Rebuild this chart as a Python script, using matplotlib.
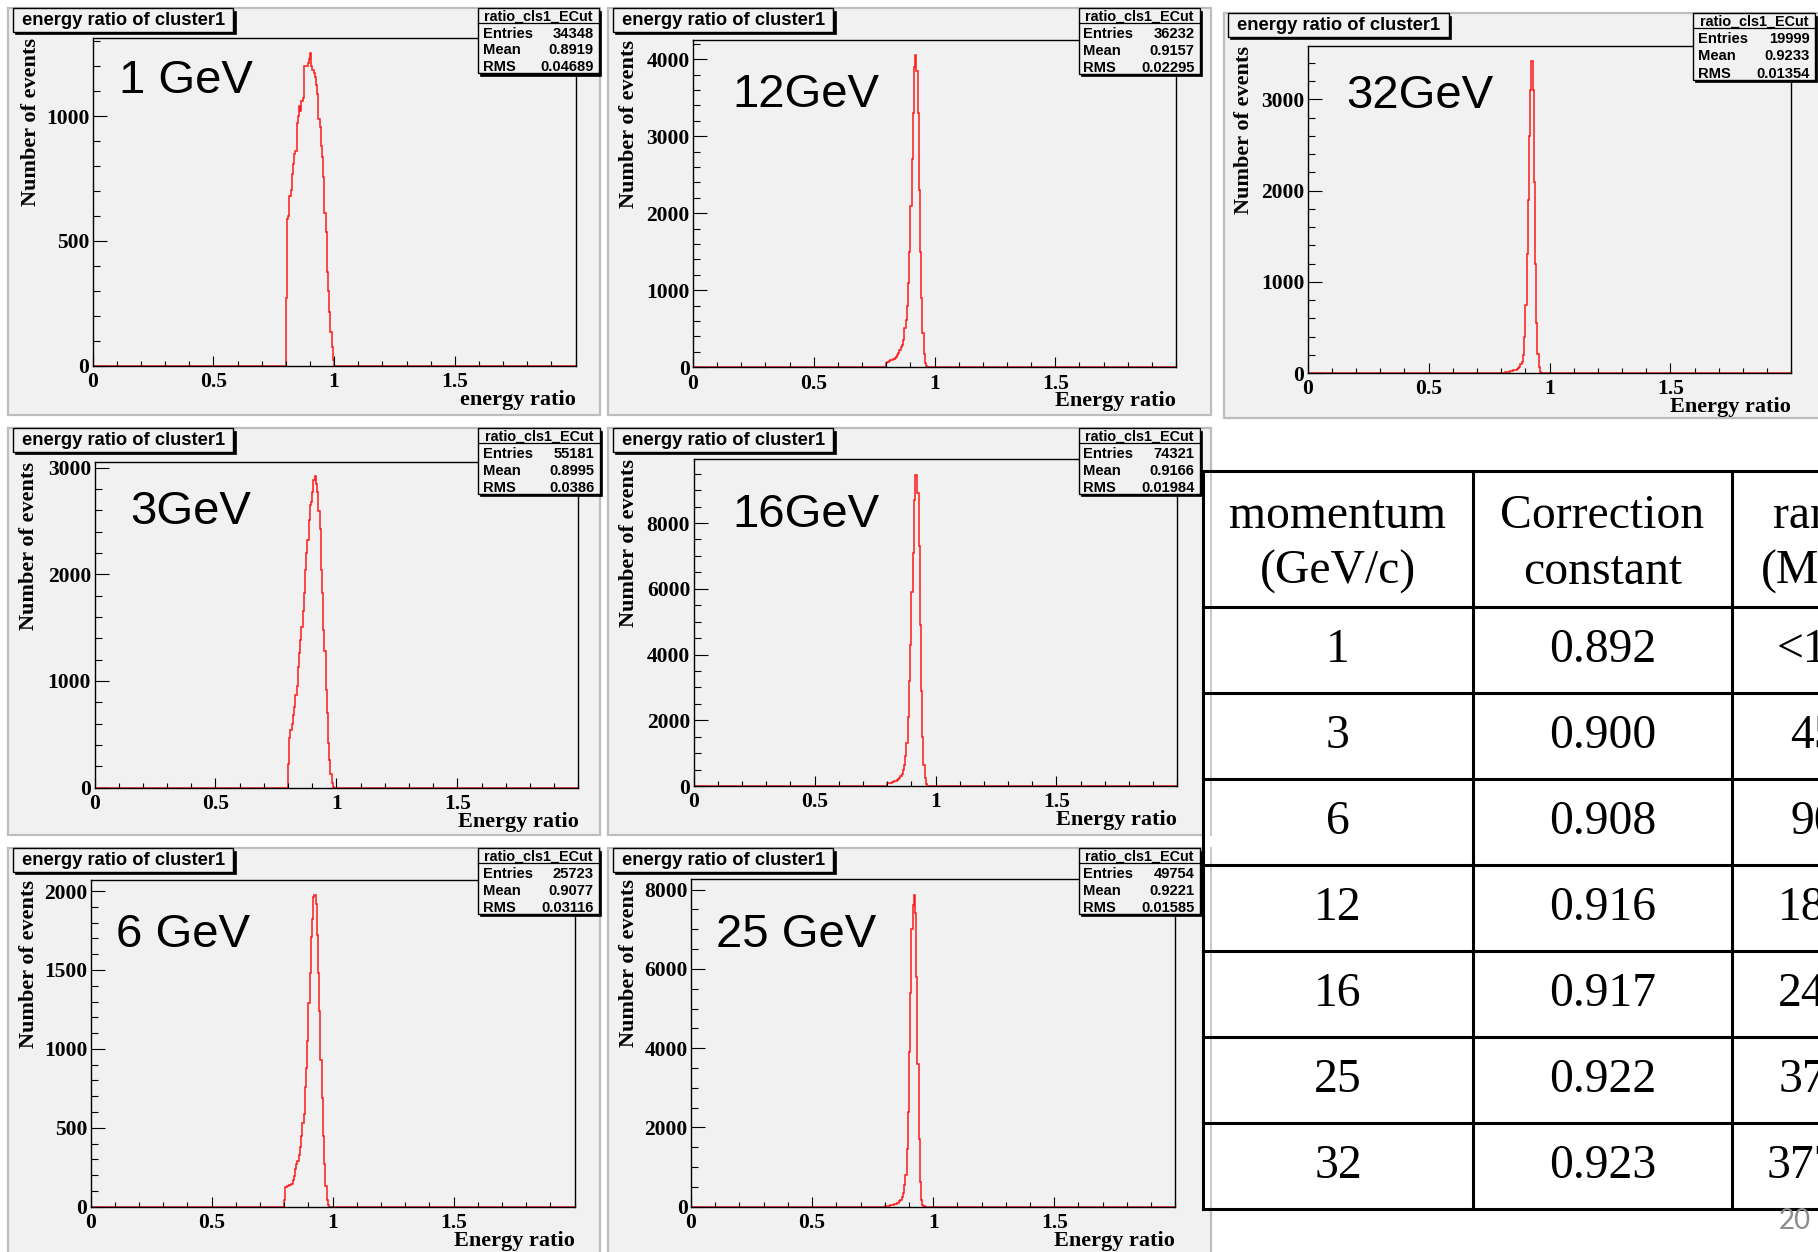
import numpy as np
import matplotlib
matplotlib.use("Agg")
import matplotlib.pyplot as plt
from matplotlib.patches import Rectangle
from matplotlib.ticker import MultipleLocator, FixedLocator

# ------------------------------------------------------------------ data
energy_labels = ["1 GeV", "12GeV", "32GeV", "3GeV", "16GeV", "6 GeV", "25 GeV"]
x_titles = ["energy ratio", "Energy ratio", "Energy ratio", "Energy ratio",
            "Energy ratio", "Energy ratio", "Energy ratio"]
hist_name = "ratio_cls1_ECut"
entries = ["34348", "36232", "19999", "55181", "74321", "25723", "49754"]
means = ["0.8919", "0.9157", "0.9233", "0.8995", "0.9166", "0.9077", "0.9221"]
rms = ["0.04689", "0.02295", "0.01354", "0.0386", "0.01984", "0.03116", "0.01585"]

# bin contents, bins of width 0.005 starting at energy ratio 0.800 (all other bins empty)
hist_start = 0.800
bin_width = 0.005
counts_1GeV = [270, 590, 600, 680, 705, 770, 810, 850, 860, 975, 1000, 1040, 1020, 1060,
               1075, 1200, 1200, 1200, 1215, 1230, 1253, 1200, 1185, 1175, 1158, 1124,
               1091, 990, 955, 880, 838, 758, 611, 537, 377, 300, 217, 136, 76, 22]
counts_12GeV = [55, 75, 80, 90, 95, 100, 110, 120, 135, 160, 185, 230, 260, 290, 360, 510,
                620, 800, 1100, 1500, 2100, 2700, 3300, 3900, 4050, 3850, 3300, 2300, 1500,
                900, 450, 170, 60, 15]
counts_32GeV = [0, 3, 5, 8, 10, 13, 16, 19, 22, 25, 28, 32, 36, 42, 55, 70, 95, 125, 200,
                400, 750, 1300, 1900, 2600, 3100, 3420, 3100, 2100, 1200, 550, 210, 70, 15, 3]
counts_3GeV = [220, 470, 540, 600, 680, 760, 870, 950, 1130, 1260, 1380, 1510, 1660, 1820,
               2040, 2200, 2320, 2510, 2650, 2680, 2770, 2880, 2920, 2850, 2770, 2590, 2420,
               2040, 1820, 1480, 1280, 920, 700, 420, 260, 130, 40, 10]
counts_16GeV = [80, 90, 100, 105, 115, 125, 140, 160, 185, 210, 240, 290, 360, 480, 650, 900,
                1300, 2100, 3200, 4300, 5900, 7100, 8700, 9450, 9470, 8900, 7300, 4900, 2900,
                1500, 650, 230, 60, 10]
counts_6GeV = [45, 125, 130, 130, 135, 140, 145, 170, 195, 240, 270, 290, 330, 380, 450, 530,
               590, 760, 880, 1050, 1290, 1480, 1710, 1820, 1960, 1975, 1920, 1720, 1480,
               1240, 930, 690, 450, 270, 130, 45, 10]
counts_25GeV = [15, 20, 25, 30, 35, 40, 45, 50, 60, 80, 90, 100, 140, 180, 240, 350, 540, 800,
                1450, 2400, 3900, 5400, 7000, 7600, 7860, 7400, 5800, 3600, 1700, 630, 170,
                45, 10]
all_counts = [counts_1GeV, counts_12GeV, counts_32GeV, counts_3GeV,
              counts_16GeV, counts_6GeV, counts_25GeV]

y_max = [1315, 4250, 3590, 3055, 9940, 2070, 8260]
y_major = [500, 1000, 1000, 1000, 2000, 500, 2000]
y_minor = [100, 200, 200, 200, 500, 100, 500]
x_major_ticks = [0, 0.5, 1, 1.5]
x_major_labels = ["0", "0.5", "1", "1.5"]

table_headers = [("momentum", "(GeV/c)"), ("Correction", "constant"), ("range", "(MeV)")]
table_momentum = ["1", "3", "6", "12", "16", "25", "32"]
table_correction = ["0.892", "0.900", "0.908", "0.916", "0.917", "0.922", "0.923"]
table_range = ["<100", "450", "900", "1800", "2400", "3700", "37700"]
page_number = "20"

# ------------------------------------------------------------------ layout (pixels)
W, H = 1818, 1252
CANVAS_C = "#f1f1f1"
SERIF = "Liberation Serif"
SANS = "Liberation Sans"

panels = [
    dict(canvas=(8, 8, 600, 415), frame=(92.6, 37.7, 575.6, 365.7),
         title=(12.8, 8.3, 233.4, 31.7), stats=(477.6, 8.3, 599, 73.3),
         big=(118.6, 93.3), ylab=31),
    dict(canvas=(608, 8, 1211, 415), frame=(693, 40, 1176, 367.3),
         title=(613, 8.3, 833.3, 31.7), stats=(1078.5, 8.3, 1199.8, 74),
         big=(732.5, 107.3), ylab=629),
    dict(canvas=(1224, 13, 1835, 418), frame=(1307.7, 45.7, 1791.3, 373),
         title=(1227.6, 13.3, 1448.8, 36.7), stats=(1693, 13.3, 1815, 80),
         big=(1346, 108.3), ylab=1244),
    dict(canvas=(8, 428, 600, 835), frame=(94.5, 461.7, 578.4, 787.7),
         title=(12.8, 428.3, 233.4, 451.7), stats=(477.6, 428.3, 600, 494),
         big=(130.3, 524), ylab=29),
    dict(canvas=(608, 428, 1211, 835), frame=(693.7, 459.3, 1177.3, 786),
         title=(613, 428.3, 833.3, 451.7), stats=(1078.5, 428.3, 1199.8, 494),
         big=(732.5, 527.3), ylab=629),
    dict(canvas=(8, 848, 600, 1262), frame=(90.6, 880, 574.5, 1206.7),
         title=(12.8, 848.3, 233.4, 871.7), stats=(477.6, 848.3, 599, 914),
         big=(115.9, 947.3), ylab=28.6),
    dict(canvas=(608, 848, 1211, 1262), frame=(691, 879.3, 1175.3, 1206.7),
         title=(613, 848.3, 833.3, 871.7), stats=(1078.5, 848.3, 1199.8, 914),
         big=(715.9, 947.3), ylab=629),
]

plt.rcParams["font.family"] = [SERIF, "DejaVu Serif"]
plt.rcParams["font.weight"] = "bold"

fig = plt.figure(figsize=(W / 100, H / 100), dpi=100, facecolor="white")


def overlay(z):
    a = fig.add_axes([0, 0, 1, 1], zorder=z)
    a.set_xlim(0, W)
    a.set_ylim(H, 0)
    a.axis("off")
    a.patch.set_alpha(0)
    return a


bg = overlay(0)
fg = overlay(3)


def frac(x0, y0, x1, y1):
    return [x0 / W, 1 - y1 / H, (x1 - x0) / W, (y1 - y0) / H]


def box(ax, x0, y0, x1, y1, face=CANVAS_C, shadow=2.2, lw=1.0):
    if shadow:
        ax.add_patch(Rectangle((x0 + shadow, y0 + shadow), x1 - x0, y1 - y0,
                               facecolor="black", edgecolor="black", lw=0.5))
    ax.add_patch(Rectangle((x0, y0), x1 - x0, y1 - y0, facecolor=face,
                           edgecolor="black", lw=lw))


edges = np.linspace(0.0, 2.0, 401)
i0 = int(round(hist_start / bin_width))

for k, p in enumerate(panels):
    cx0, cy0, cx1, cy1 = p["canvas"]
    bg.add_patch(Rectangle((cx0, cy0), cx1 - cx0, cy1 - cy0, facecolor=CANVAS_C,
                           edgecolor="#bdbdbd", lw=1.6))

    fx0, fy0, fx1, fy1 = p["frame"]
    ax = fig.add_axes(frac(fx0, fy0, fx1, fy1), zorder=2)
    ax.patch.set_alpha(0)
    full = np.zeros(400)
    c = np.asarray(all_counts[k], dtype=float)
    full[i0:i0 + len(c)] = c
    ax.stairs(full, edges, color="#ff1a1a", lw=1.1)
    ax.set_xlim(0, 2)
    ax.set_ylim(0, y_max[k])
    ax.xaxis.set_major_locator(FixedLocator(x_major_ticks))
    ax.set_xticklabels(x_major_labels)
    ax.xaxis.set_minor_locator(MultipleLocator(0.1))
    ax.yaxis.set_major_locator(MultipleLocator(y_major[k]))
    ax.yaxis.set_minor_locator(MultipleLocator(y_minor[k]))
    ax.tick_params(axis="x", which="major", direction="in", length=7.2, width=0.8,
                   pad=4.5, top=False, labelsize=15.5, colors="black")
    ax.tick_params(axis="x", which="minor", direction="in", length=3.6, width=0.8, top=False)
    ax.tick_params(axis="y", which="major", direction="in", length=10.4, width=0.8,
                   pad=2.5, right=False, labelsize=15.5)
    ax.tick_params(axis="y", which="minor", direction="in", length=5.2, width=0.8, right=False)
    for lbl in ax.get_xticklabels() + ax.get_yticklabels():
        lbl.set_fontfamily(SERIF)
        lbl.set_fontweight("bold")
    for s in ax.spines.values():
        s.set_linewidth(1.0)
        s.set_color("black")

    fg.text(p["ylab"], fy0, "Number of events", rotation=90, ha="center", va="top",
            fontsize=16, family=SERIF, weight="bold")
    fg.text(fx1, fy1 + 39, x_titles[k], ha="right", va="baseline",
            fontsize=16, family=SERIF, weight="bold")

    bx, by = p["big"]
    fg.text(bx, by, energy_labels[k], ha="left", va="baseline", fontsize=34,
            family=SANS, weight="normal")

    tx0, ty0, tx1, ty1 = p["title"]
    box(fg, tx0, ty0, tx1, ty1)
    fg.text((tx0 + tx1) / 2, ty0 + 16.5, "energy ratio of cluster1", ha="center",
            va="baseline", fontsize=13.2, family=SANS, weight="bold")

    sx0, sy0, sx1, sy1 = p["stats"]
    box(fg, sx0, sy0, sx1, sy1)
    fg.plot([sx0, sx1], [sy0 + 15, sy0 + 15], color="black", lw=0.9)
    fg.text((sx0 + sx1) / 2, sy0 + 12.3, hist_name, ha="center", va="baseline",
            fontsize=10.4, family=SANS, weight="bold")
    rows = [("Entries", entries[k]), ("Mean", means[k]), ("RMS", rms[k])]
    step = (sy1 - sy0 - 15) / 3.0
    for j, (lab, val) in enumerate(rows):
        yb = sy0 + 15 + step * (j + 1) - 2.3
        fg.text(sx0 + 5, yb, lab, ha="left", va="baseline", fontsize=10.6,
                family=SANS, weight="bold")
        fg.text(sx1 - 5.5, yb, val, ha="right", va="baseline", fontsize=10.6,
                family=SANS, weight="bold")

# ------------------------------------------------------------------ table
tab_x = [1203, 1473, 1732, 1920]
tab_top = 471
head_bot = 606.5
tab_bot = 1209
n_rows = len(table_momentum)
row_h = (tab_bot - head_bot) / n_rows
row_lines = [tab_top, head_bot] + [head_bot + row_h * (i + 1) for i in range(n_rows)]

fg.add_patch(Rectangle((tab_x[0], tab_top), tab_x[-1] - tab_x[0], tab_bot - tab_top,
                       facecolor="white", edgecolor="none"))
for (y0, y1) in [(tab_top, 835), (848, tab_bot)]:
    fg.plot([1211, 1211], [y0, y1], color="#c8c8c8", lw=1.4)

fg.text(1779, 1229, page_number, ha="left", va="baseline", fontsize=20,
        family="Lato", weight="normal", color="#8c8c8c")

for y in row_lines:
    fg.plot([tab_x[0], tab_x[-1]], [y, y], color="black", lw=2.2, solid_capstyle="projecting")
for x in tab_x[:-1]:
    fg.plot([x, x], [tab_top, tab_bot], color="black", lw=2.2, solid_capstyle="projecting")

col_centers = [(tab_x[0] + tab_x[1]) / 2, (tab_x[1] + tab_x[2]) / 2, 1826]
for ci, (l1, l2) in enumerate(table_headers):
    fg.text(col_centers[ci], 528, l1, ha="center", va="baseline", fontsize=34.3,
            family=SERIF, weight="normal")
    fg.text(col_centers[ci], 584, l2, ha="center", va="baseline", fontsize=34.3,
            family=SERIF, weight="normal")
for ri in range(n_rows):
    yb = head_bot + row_h * ri + 0.64 * row_h
    for ci, col in enumerate([table_momentum, table_correction, table_range]):
        fg.text(col_centers[ci], yb, col[ri], ha="center", va="baseline", fontsize=34.3,
                family=SERIF, weight="normal")

fig.savefig("out.png", dpi=100, facecolor="white")
